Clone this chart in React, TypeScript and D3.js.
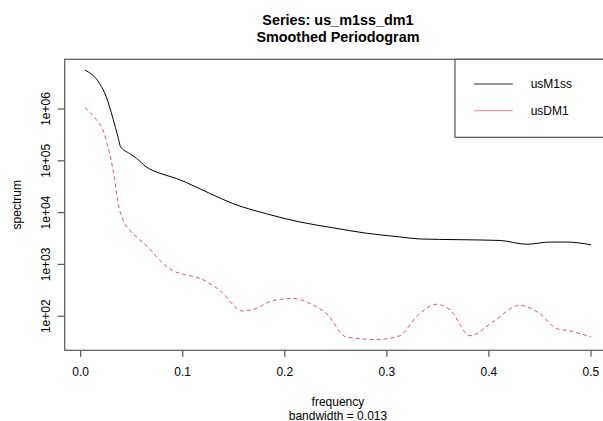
import React from "react";
import * as d3 from "d3";

// ---- data ----
const freqM1 = [0.0042, 0.0186, 0.025, 0.0317, 0.0366, 0.0392, 0.048, 0.0546, 0.0644, 0.0775, 0.0938, 0.112, 0.1265, 0.149, 0.182, 0.2147, 0.247, 0.28, 0.3127, 0.332, 0.3716, 0.411, 0.437, 0.46, 0.476, 0.5];
const specM1 = [5.64e6, 3.1e6, 1.74e6, 6.5e5, 2.9e5, 1.86e5, 1.38e5, 1.12e5, 7.6e4, 5.75e4, 4.57e4, 3.2e4, 2.35e4, 1.5e4, 9.5e3, 6.6e3, 5.1e3, 4.0e3, 3.4e3, 3.1e3, 3.0e3, 2.9e3, 2.45e3, 2.7e3, 2.7e3, 2.4e3];

const freqDM1 = [0.0042, 0.0154, 0.0219, 0.0268, 0.03, 0.0333, 0.0365, 0.0415, 0.048, 0.0578, 0.0676, 0.0775, 0.09, 0.1, 0.1167, 0.136, 0.159, 0.169, 0.1886, 0.208, 0.228, 0.241, 0.26, 0.29, 0.3127, 0.329, 0.3487, 0.362, 0.3816, 0.404, 0.43, 0.45, 0.466, 0.479, 0.5];
const specDM1 = [1.07e6, 6.2e5, 3.9e5, 1.86e5, 1.0e5, 4.3e4, 1.6e4, 7.2e3, 4.6e3, 3.0e3, 2.0e3, 1.2e3, 760, 650, 540, 320, 126, 135, 200, 220, 162, 112, 40, 35.5, 42, 98, 170, 132, 42, 78, 162, 112, 58, 52, 40];

const xTicks = [0, 0.1, 0.2, 0.3, 0.4, 0.5];
const xTickLabels = ["0.0", "0.1", "0.2", "0.3", "0.4", "0.5"];
const yTicks = [1e2, 1e3, 1e4, 1e5, 1e6];
const yTickLabels = ["1e+02", "1e+03", "1e+04", "1e+05", "1e+06"];
const seriesNames = ["usM1ss", "usDM1"];
const seriesColors = ["#000000", "#DF536B"];

const W = 603;
const H = 421;
const plotL = 64.7;
const plotR = 611.2;
const plotT = 59.3;
const plotB = 350.3;
const FONT = "'Liberation Sans', Arial, Helvetica, sans-serif";

export default function App() {
  const allX = [...freqM1, ...freqDM1];
  const [x0, x1] = d3.extent(allX) as [number, number];
  const xr = x1 - x0;
  const x = d3.scaleLinear().domain([x0 - 0.04 * xr, x1 + 0.04 * xr]).range([plotL, plotR]);

  const allY = [...specM1, ...specDM1].map((v) => Math.log10(v));
  const [l0, l1] = d3.extent(allY) as [number, number];
  const lr = l1 - l0;
  const y = d3
    .scaleLog()
    .domain([Math.pow(10, l0 - 0.04 * lr), Math.pow(10, l1 + 0.04 * lr)])
    .range([plotB, plotT]);

  const line = d3
    .line<[number, number]>()
    .x((d) => x(d[0]))
    .y((d) => y(d[1]))
    .curve(d3.curveMonotoneX);

  const m1 = freqM1.map((f, i) => [f, specM1[i]] as [number, number]);
  const dm1 = freqDM1.map((f, i) => [f, specDM1[i]] as [number, number]);

  const boxStroke = "#555";
  const legL = 455;
  const legT = plotT;
  const legB = 137.3;
  const legRows = [84, 110.7];

  return (
    <svg
      width={W}
      height={H}
      style={{ position: "absolute", left: 0, top: 0, background: "#fff", overflow: "hidden" }}
      fontFamily={FONT}
    >
      <rect x={0} y={0} width={W} height={H} fill="#fff" />
      {/* titles */}
      <text x={(plotL + plotR) / 2} y={24.5} textAnchor="middle" fontSize={14.4} fontWeight="bold" fill="#000">
        Series: us_m1ss_dm1
      </text>
      <text x={(plotL + plotR) / 2} y={41.8} textAnchor="middle" fontSize={14.4} fontWeight="bold" fill="#000">
        Smoothed Periodogram
      </text>

      {/* series */}
      <path d={line(m1) || ""} fill="none" stroke={seriesColors[0]} strokeWidth={1} />
      <path d={line(dm1) || ""} fill="none" stroke={seriesColors[1]} strokeWidth={1} strokeDasharray="4,3" />

      {/* plot box */}
      <rect x={plotL} y={plotT} width={plotR - plotL} height={plotB - plotT} fill="none" stroke={boxStroke} strokeWidth={1.2} />

      {/* x axis */}
      {xTicks.map((t, i) => (
        <g key={"xt" + i}>
          <line x1={x(t)} x2={x(t)} y1={plotB} y2={plotB + 6.5} stroke={boxStroke} strokeWidth={1.2} />
          <text x={x(t)} y={376} textAnchor="middle" fontSize={12} fill="#000">
            {xTickLabels[i]}
          </text>
        </g>
      ))}
      <text x={(plotL + plotR) / 2} y={405.5} textAnchor="middle" fontSize={12} fill="#000">
        frequency
      </text>
      <text x={(plotL + plotR) / 2} y={419.5} textAnchor="middle" fontSize={12} fill="#000">
        bandwidth = 0.013
      </text>

      {/* y axis */}
      {yTicks.map((t, i) => (
        <g key={"yt" + i}>
          <line x1={plotL} x2={plotL - 7} y1={y(t)} y2={y(t)} stroke={boxStroke} strokeWidth={1.2} />
          <text
            transform={`translate(50,${y(t)}) rotate(-90)`}
            textAnchor="middle"
            fontSize={12}
            fill="#000"
          >
            {yTickLabels[i]}
          </text>
        </g>
      ))}
      <text transform={`translate(21,${(plotT + plotB) / 2}) rotate(-90)`} textAnchor="middle" fontSize={12} fill="#000">
        spectrum
      </text>

      {/* legend */}
      <rect x={legL} y={legT} width={plotR - legL} height={legB - legT} fill="#fff" stroke={boxStroke} strokeWidth={1.2} />
      {seriesNames.map((n, i) => (
        <g key={"lg" + i}>
          <line
            x1={474}
            x2={512.7}
            y1={legRows[i]}
            y2={legRows[i]}
            stroke={seriesColors[i]}
            strokeWidth={1}
            strokeOpacity={i === 0 ? 0.85 : 0.7}
          />
          <text x={530.7} y={legRows[i] + 4.3} fontSize={12} fill="#000">
            {n}
          </text>
        </g>
      ))}
    </svg>
  );
}
